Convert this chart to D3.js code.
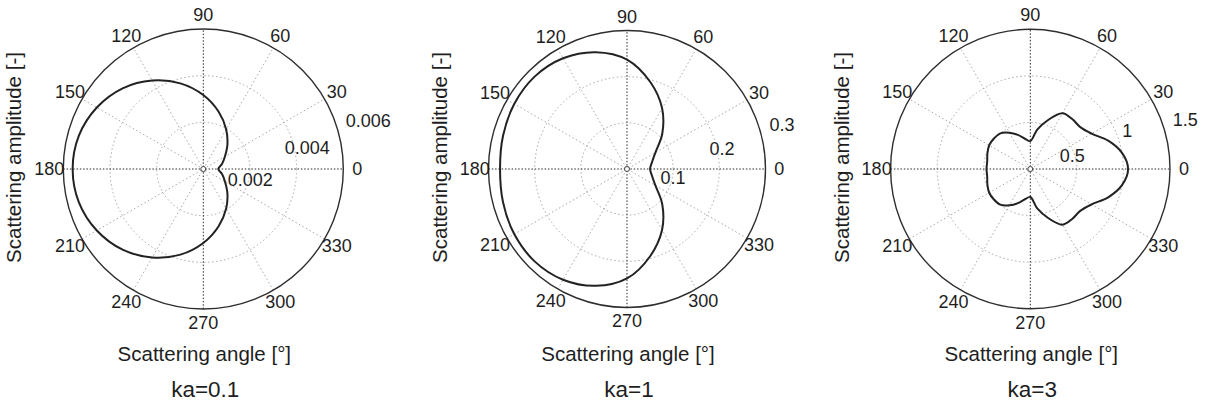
<!DOCTYPE html>
<html>
<head>
<meta charset="utf-8">
<script src="https://cdn.jsdelivr.net/npm/d3@7"></script>
<style>
  body { margin: 0; background: #fff; }
  text { font-family: "Liberation Sans", Arial, Helvetica, sans-serif; fill: #1e1e1e; }
</style>
</head>
<body>
<svg id="chart" width="1205" height="403"></svg>
<script>
// Scattering angle samples (degrees)
const angles15 = d3.range(0, 360, 15);
const angles10 = d3.range(0, 360, 10);

// Scattering amplitude, ka = 0.1 (every 15°)
const ampKa01 = [0.00064, 0.00083, 0.00107, 0.00146, 0.00196, 0.00254, 0.00317, 0.00380,
                 0.00438, 0.00489, 0.00527, 0.00552, 0.00560, 0.00552, 0.00527, 0.00489,
                 0.00438, 0.00380, 0.00317, 0.00254, 0.00196, 0.00146, 0.00107, 0.00083];

// Scattering amplitude, ka = 1 (every 15°)
const ampKa1 = [0.050, 0.056, 0.071, 0.108, 0.152, 0.195, 0.237, 0.262,
                0.277, 0.283, 0.282, 0.278, 0.275, 0.278, 0.282, 0.283,
                0.277, 0.262, 0.237, 0.195, 0.152, 0.108, 0.071, 0.056];

// Scattering amplitude, ka = 3 (every 10°)
const ampKa3 = [1.05, 1.00, 0.89, 0.76, 0.70, 0.70, 0.69, 0.56, 0.43, 0.30,
                0.33, 0.39, 0.45, 0.50, 0.51, 0.51, 0.49, 0.47, 0.47, 0.47,
                0.49, 0.51, 0.51, 0.50, 0.45, 0.39, 0.33, 0.30, 0.43, 0.56,
                0.69, 0.70, 0.70, 0.76, 0.89, 1.00];

// Radial ticks and their labels
const ringsKa01 = [0.002, 0.004, 0.006];
const ringLabelsKa01 = ["0.002", "0.004", "0.006"];
const ringsKa1 = [0.1, 0.2, 0.3];
const ringLabelsKa1 = ["0.1", "0.2", "0.3"];
const ringsKa3 = [0.5, 1, 1.5];
const ringLabelsKa3 = ["0.5", "1", "1.5"];

// Angular ticks
const angleTicks = d3.range(0, 360, 30);
const titles = ["ka=0.1", "ka=1", "ka=3"];
const xLabel = "Scattering angle [°]";
const yLabel = "Scattering amplitude [-]";

// Panel placement
const layout = [
  { cx: 203.3, R: 140,   ringLabelOffsets: [[47, 11], [104, -21], [165, -48]] },
  { cx: 627,   R: 138.5, ringLabelOffsets: [[46, 9], [95, -20], [155, -44]] },
  { cx: 1030.3, R: 139.7, ringLabelOffsets: [[42, -13], [97, -38], [155, -49]] }
];
const cy = 169;

const panels = [
  { angles: angles15, values: ampKa01, rings: ringsKa01, ringLabels: ringLabelsKa01 },
  { angles: angles15, values: ampKa1,  rings: ringsKa1,  ringLabels: ringLabelsKa1 },
  { angles: angles10, values: ampKa3,  rings: ringsKa3,  ringLabels: ringLabelsKa3 }
];

const svg = d3.select("#chart");
const rad = d => d * Math.PI / 180;

panels.forEach((p, i) => {
  const { cx, R, ringLabelOffsets } = layout[i];
  const rmax = p.rings[p.rings.length - 1];
  const r = d3.scaleLinear().domain([0, rmax]).range([0, R]);
  const g = svg.append("g").attr("transform", `translate(${cx},${cy})`);

  // dotted inner rings
  g.selectAll("circle.ring")
    .data(p.rings.slice(0, -1))
    .join("circle")
    .attr("class", "ring")
    .attr("r", d => r(d))
    .attr("fill", "none")
    .attr("stroke", "#a8a8a8")
    .attr("stroke-width", 1)
    .attr("stroke-dasharray", "1.5,2.5");

  // dotted spokes through the centre
  g.selectAll("line.spoke")
    .data(d3.range(0, 180, 30))
    .join("line")
    .attr("class", "spoke")
    .attr("x1", d => -R * Math.cos(rad(d)))
    .attr("y1", d => R * Math.sin(rad(d)))
    .attr("x2", d => R * Math.cos(rad(d)))
    .attr("y2", d => -R * Math.sin(rad(d)))
    .attr("stroke", d => (d % 90 === 0 ? "#2a2a2a" : "#a8a8a8"))
    .attr("stroke-width", 1)
    .attr("stroke-dasharray", d => (d % 90 === 0 ? "1.5,1.8" : "1.5,2.5"));

  // small marker at the origin
  g.append("circle")
    .attr("r", 2.5)
    .attr("fill", "#fff")
    .attr("stroke", "#444")
    .attr("stroke-width", 1);

  // amplitude curve
  const pts = p.angles.map((a, k) => ({ a, v: p.values[k] }));
  const line = d3.lineRadial()
    .angle(d => Math.PI / 2 - rad(d.a))
    .radius(d => r(d.v))
    .curve(d3.curveCatmullRomClosed.alpha(0.5));
  g.append("path")
    .attr("d", line(pts))
    .attr("fill", "none")
    .attr("stroke", "#222")
    .attr("stroke-width", 2);

  // outer boundary
  g.append("circle")
    .attr("r", r(rmax))
    .attr("fill", "none")
    .attr("stroke", "#2e2e2e")
    .attr("stroke-width", 1.4);

  // angular tick labels
  g.selectAll("text.ang")
    .data(angleTicks)
    .join("text")
    .attr("class", "ang")
    .attr("x", d => 1.1 * R * Math.cos(rad(d)))
    .attr("y", d => -1.1 * R * Math.sin(rad(d)))
    .attr("text-anchor", "middle")
    .attr("dominant-baseline", "central")
    .attr("font-size", 18)
    .text(d => d);

  // radial tick labels
  g.selectAll("text.rad")
    .data(p.ringLabels)
    .join("text")
    .attr("class", "rad")
    .attr("x", (d, k) => ringLabelOffsets[k][0])
    .attr("y", (d, k) => ringLabelOffsets[k][1])
    .attr("text-anchor", "middle")
    .attr("dominant-baseline", "central")
    .attr("font-size", 18)
    .text(d => d);

  // axis labels and title
  g.append("text")
    .attr("x", 1)
    .attr("y", 192)
    .attr("text-anchor", "middle")
    .attr("font-size", 20.5)
    .text(xLabel);

  g.append("text")
    .attr("transform", `translate(${-R * 1.355},${-11.5}) rotate(-90)`)
    .attr("text-anchor", "middle")
    .attr("dominant-baseline", "central")
    .attr("font-size", 20.5)
    .text(yLabel);

  g.append("text")
    .attr("x", 2)
    .attr("y", 228)
    .attr("text-anchor", "middle")
    .attr("font-size", 22.5)
    .text(titles[i]);
});
</script>
</body>
</html>
